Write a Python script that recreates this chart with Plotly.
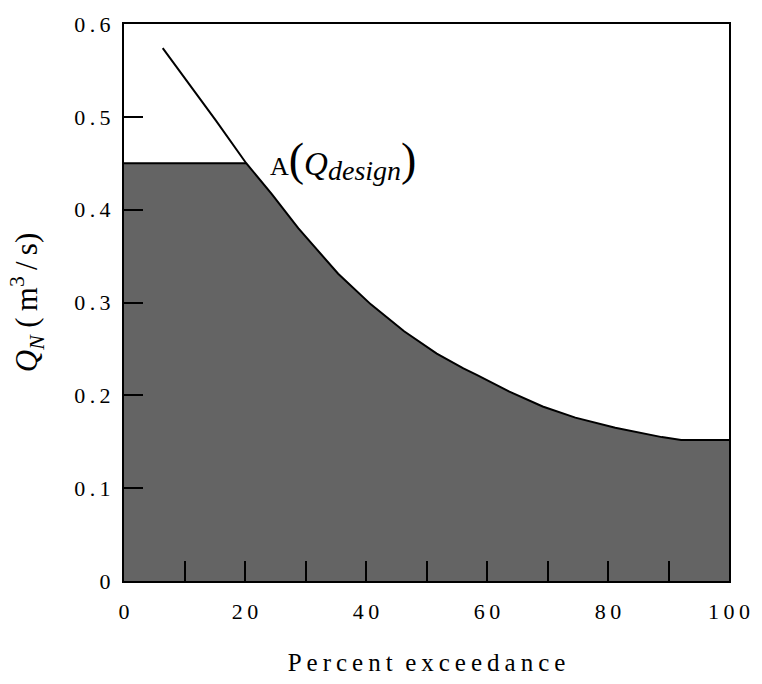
import numpy as np
import plotly.graph_objects as go

# Flow duration curve: percent of time a flow is exceeded vs. flow Q_N
percent_exceedance = [6.4, 9.7, 12.4, 15.2, 20.2, 24.4, 28.8, 35.4, 40.8, 46.3,
                      51.7, 56.1, 58.3, 63.7, 69.2, 74.6, 81.2, 88.9, 92.1, 100.0]
flow_q = [0.574, 0.545, 0.520, 0.496, 0.450, 0.417, 0.380, 0.331, 0.298, 0.269,
          0.245, 0.229, 0.222, 0.204, 0.188, 0.176, 0.165, 0.155, 0.152, 0.152]
q_design = 0.45

x_ticks = [0, 20, 40, 60, 80, 100]
x_minor_ticks = [10, 30, 50, 70, 90]
x_tick_labels = ["0", "20", "40", "60", "80", "100"]
y_ticks = [0, 0.1, 0.2, 0.3, 0.4, 0.5, 0.6]
y_tick_labels = ["0", "0.1", "0.2", "0.3", "0.4", "0.5", "0.6"]

NB = "\u00a0"
THIN = "\u2009"


def spaced(s, sep=THIN):
    return sep.join(list(s))


SERIF = "Liberation Serif, Times New Roman, serif"

px = np.array(percent_exceedance)
qv = np.array(flow_q)

# usable flow: curve capped at the design flow, extended back to 0 %
fill_x = np.concatenate([[0.0], px])
fill_y = np.concatenate([[q_design], np.minimum(qv, q_design)])

fig = go.Figure()
fig.add_trace(go.Scatter(
    x=fill_x, y=fill_y, mode="lines", fill="tozeroy",
    fillcolor="#646464", line=dict(width=0), hoverinfo="skip", showlegend=False,
))
# cap line at the design flow
cap_x = [0.0, float(px[np.argmin(np.abs(qv - q_design))])]
fig.add_trace(go.Scatter(
    x=cap_x, y=[q_design, q_design], mode="lines",
    line=dict(color="black", width=2), showlegend=False,
))
fig.add_trace(go.Scatter(
    x=px, y=qv, mode="lines",
    line=dict(color="black", width=2), showlegend=False,
))

fig.add_annotation(
    x=23.8, y=q_design, xref="x", yref="y", xanchor="left", yanchor="middle",
    showarrow=False,
    text=("<span style='font-size:26px'>A</span>"
          "<span style='font-size:46px'>(</span>"
          "<span style='font-size:33px'><i>Q</i></span>"
          "<sub><span style='font-size:28px'><i>design</i></span></sub>"
          "<span style='font-size:46px'>)</span>"),
    font=dict(family=SERIF, size=26, color="black"),
    yshift=3,
)

fig.update_layout(
    width=762, height=684,
    margin=dict(l=124, r=27, t=22, b=103),
    paper_bgcolor="white", plot_bgcolor="white",
    font=dict(family=SERIF, color="black"),
    xaxis=dict(
        range=[0, 100], tickvals=x_ticks, ticktext=[spaced(t) for t in x_tick_labels],
        ticks="inside", ticklen=20, tickwidth=2, tickcolor="black",
        minor=dict(tickvals=x_minor_ticks, ticks="inside", ticklen=20,
                   tickwidth=2, tickcolor="black", showgrid=False),
        showline=True, linecolor="black", linewidth=2, mirror=True,
        showgrid=False, zeroline=False, ticklabelstandoff=10,
        tickfont=dict(family=SERIF, size=22, color="black"),
        title=dict(text=spaced("Percent") + NB * 2 + spaced("exceedance"),
                   font=dict(family=SERIF, size=25, color="black"), standoff=30),
    ),
    yaxis=dict(
        range=[0, 0.6], tickvals=y_ticks, ticktext=[spaced(t) for t in y_tick_labels],
        ticks="inside", ticklen=19, tickwidth=2, tickcolor="black",
        showline=True, linecolor="black", linewidth=2, mirror=True,
        showgrid=False, zeroline=False, ticklabelstandoff=7,
        tickfont=dict(family=SERIF, size=22, color="black"),
        title=dict(text="<i>Q</i><sub><i>N</i></sub>" + NB + "(" + THIN + "m<sup>3</sup>"
                        + THIN + "/" + THIN + "s)",
                   font=dict(family=SERIF, size=31, color="black"), standoff=27),
    ),
)

fig.write_html("out.html")
